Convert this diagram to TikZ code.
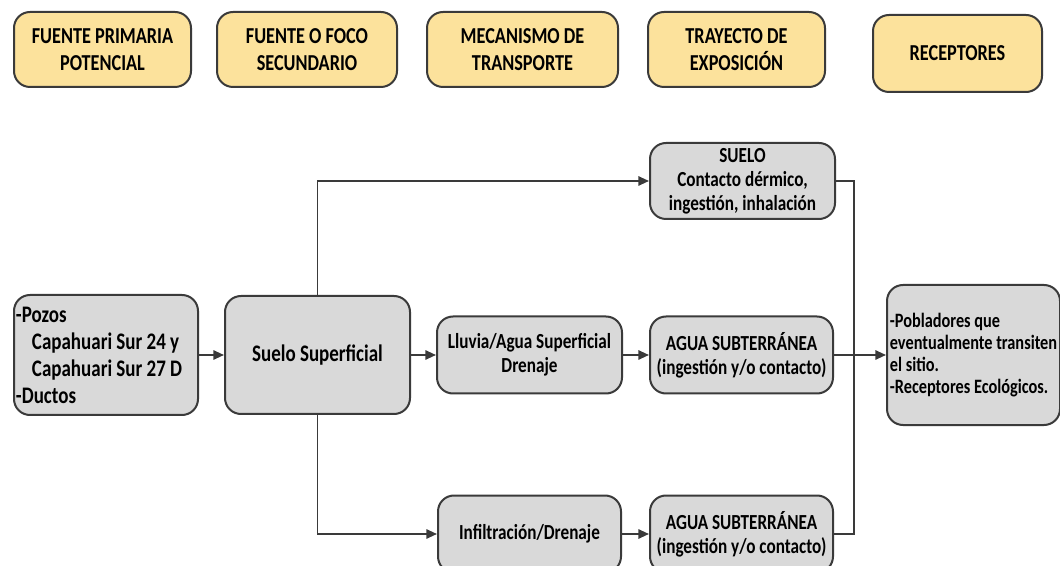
\documentclass[tikz,border=0pt]{standalone}
\usepackage{fontspec}
\setmainfont{Carlito}[FakeStretch=0.8]
\usetikzlibrary{arrows.meta}
\definecolor{hdrfill}{HTML}{FCE29C}
\definecolor{boxfill}{HTML}{D9D9D9}
\definecolor{edge}{HTML}{3A3A3A}
\tikzset{
  hdr/.style={draw=edge,fill=hdrfill,line width=1.5pt,rounded corners=12pt,align=center,inner sep=0pt,
    font=\fontsize{17.1}{20.25}\selectfont\bfseries},
  box/.style={draw=edge,fill=boxfill,line width=1.5pt,rounded corners=12pt,align=center,inner sep=0pt,
    font=\fontsize{16.1}{18}\selectfont\bfseries},
  link/.style={draw=edge,line width=1.4pt},
  arr/.style={link,-{Triangle[length=8pt,width=7pt]}}
}
\begin{document}
\begin{tikzpicture}[x=0.75pt,y=-0.75pt]
\useasboundingbox (0,0) rectangle (1060,566);
\node[hdr,minimum width=177*0.75pt,minimum height=75*0.75pt] (h1) at (102.5,49.5) {FUENTE PRIMARIA\\POTENCIAL};
\node[hdr,minimum width=180*0.75pt,minimum height=75*0.75pt] (h2) at (307,49.5) {FUENTE O FOCO\\SECUNDARIO};
\node[hdr,minimum width=191*0.75pt,minimum height=75*0.75pt] (h3) at (522.5,49.5) {MECANISMO DE\\TRANSPORTE};
\node[hdr,minimum width=177*0.75pt,minimum height=75*0.75pt] (h4) at (736.5,49.5) {TRAYECTO DE\\EXPOSICIÓN};
\node[hdr,minimum width=169*0.75pt,minimum height=77*0.75pt] (h5) at (957.5,53.5) {RECEPTORES};
\node[box,align=flush left,text width=180*0.75pt,inner xsep=1.5pt,minimum height=120*0.75pt,
  font=\fontsize{17.8}{20.25}\selectfont\bfseries] (src) at (106,355)
  {-Pozos\\\hspace*{12pt}Capahuari Sur 24 y\\\hspace*{12pt}Capahuari Sur 27 D\\-Ductos};
\node[box,minimum width=185*0.75pt,minimum height=118*0.75pt,
  font=\fontsize{17.8}{20.25}\selectfont\bfseries] (sup) at (317.5,355) {Suelo Superficial};
\node[box,minimum width=185*0.75pt,minimum height=76*0.75pt] (suelo) at (742.5,181)
  {SUELO\\Contacto dérmico,\\ingestión, inhalación};
\node[box,minimum width=185*0.75pt,minimum height=77*0.75pt] (lluvia) at (529.5,355)
  {Lluvia/Agua Superficial\\Drenaje};
\node[box,minimum width=183*0.75pt,minimum height=77*0.75pt] (agua1) at (741.5,355)
  {AGUA SUBTERRÁNEA\\(ingestión y/o contacto)};
\node[box,minimum width=183*0.75pt,minimum height=77*0.75pt] (infil) at (529.5,534)
  {Infiltración/Drenaje};
\node[box,minimum width=183*0.75pt,minimum height=77*0.75pt] (agua2) at (741.5,534)
  {AGUA SUBTERRÁNEA\\(ingestión y/o contacto)};
\node[box,align=left,minimum width=173*0.75pt,minimum height=140*0.75pt,
  font=\fontsize{15.3}{16.5}\selectfont\bfseries] (rec) at (973.5,355)
  {-Pobladores que\\eventualmente transiten\\el sitio.\\-Receptores Ecológicos.};
\coordinate (jb) at (854,534);
\draw[arr] (src) -- (sup);
\draw[arr] (sup.north) |- (suelo.west);
\draw[arr] (sup) -- (lluvia);
\draw[arr] (sup.south) |- (infil.west);
\draw[arr] (lluvia) -- (agua1);
\draw[arr] (infil) -- (agua2);
\draw[link] (suelo.east) -| (jb) -- (agua2.east);
\draw[arr] (agua1) -- (rec);
\end{tikzpicture}
\end{document}
